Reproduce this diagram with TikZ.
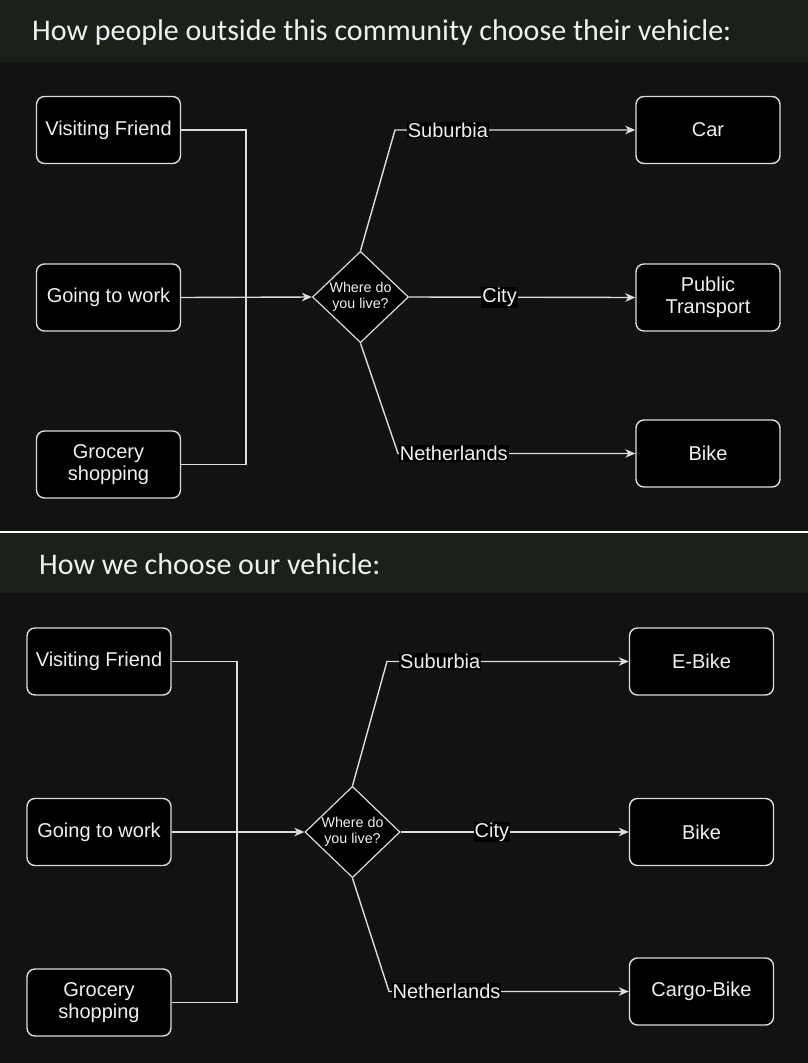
\documentclass[tikz,border=0pt]{standalone}
\usepackage{fontspec}
\setmainfont{Liberation Sans}
\newfontfamily\hdfont{Carlito}
\usetikzlibrary{shapes.geometric,arrows.meta}
\definecolor{bgdark}{HTML}{121212}
\definecolor{hdbg}{HTML}{1C201B}
\definecolor{fgtext}{HTML}{F0F0F0}
\definecolor{edgecol}{HTML}{DCDCDC}
\tikzset{
  box/.style={draw=edgecol, fill=black, rounded corners=8pt, line width=1.4pt,
    minimum width=144pt, minimum height=67pt, text=fgtext, align=center,
    font=\fontsize{20}{22}\selectfont, inner sep=2pt},
  dec/.style={diamond, draw=edgecol, fill=black, line width=1.2pt, inner sep=0pt,
    text=fgtext, align=center, font=\fontsize{14.3}{16}\selectfont},
  conn/.style={draw=edgecol, line width=1.4pt},
  arr/.style={conn, -{Stealth[length=10pt,width=8.5pt,inset=3pt]}},
  lbl/.style={fill=black, text=fgtext, inner sep=1pt, font=\fontsize{20}{22}\selectfont},
  hdtext/.style={anchor=base west, text=fgtext, inner sep=0pt, font=\hdfont\fontsize{30}{32}\selectfont}
}
\begin{document}
\begin{tikzpicture}[x=1pt,y=-1pt]
\useasboundingbox (0,0) rectangle (808,1063);
\fill[bgdark] (0,0) rectangle (808,1063);
\fill[hdbg] (0,0) rectangle (808,62);
\fill[hdbg] (0,533) rectangle (808,593);
\draw[white, line width=1.5pt] (0,532) -- (808,532);
\node[hdtext] (h1) at (32,40) {How people outside this community choose their vehicle:};
\node[hdtext] (h2) at (39,574) {How we choose our vehicle:};

% ---------- top diagram ----------
\node[box] (vf1) at (108.5,130) {Visiting Friend};
\node[box] (gw1) at (108.5,297.5) {Going to work};
\node[box] (gs1) at (108.5,464.5) {Grocery\\shopping};
\node[dec, minimum width=96pt, minimum height=88pt] (d1) at (360.5,297) {Where do\\you live?};
\node[box] (car1) at (708,130) {Car};
\node[box] (pt1) at (708,297.5) {Public\\Transport};
\node[box] (bk1) at (708,453.5) {Bike};
\coordinate (j1) at (246,297.5);
\coordinate (s1) at (395,130);
\coordinate (n1) at (398,453.5);
\draw[conn] (vf1.east) -| (j1);
\draw[conn] (gs1.east) -| (j1);
\draw[arr] (gw1.east) -- (d1.west);
\draw[arr] (d1.north) -- (s1) -- node[lbl,pos=0.22] (l1s) {Suburbia} (car1.west);
\draw[arr] (d1.east) -- node[lbl,pos=0.40] (l1c) {City} (pt1.west);
\draw[arr] (d1.south) -- (n1) -- node[lbl,pos=0.235] (l1n) {Netherlands} (bk1.west);

% ---------- bottom diagram ----------
\node[box] (vf2) at (99,661.5) {Visiting Friend};
\node[box] (gw2) at (99,832) {Going to work};
\node[box] (gs2) at (99,1002.5) {Grocery\\shopping};
\node[dec, minimum width=95pt, minimum height=90pt] (d2) at (352.5,832) {Where do\\you live?};
\node[box] (eb2) at (701.5,661.5) {E-Bike};
\node[box] (bk2) at (701.5,832) {Bike};
\node[box] (cb2) at (701.5,991.5) {Cargo-Bike};
\coordinate (j2) at (237,832);
\coordinate (s2) at (387,661.5);
\coordinate (n2) at (389,991.5);
\draw[conn] (vf2.east) -| (j2);
\draw[conn] (gs2.east) -| (j2);
\draw[arr] (gw2.east) -- (d2.west);
\draw[arr] (d2.north) -- (s2) -- node[lbl,pos=0.22] (l2s) {Suburbia} (eb2.west);
\draw[arr] (d2.east) -- node[lbl,pos=0.40] (l2c) {City} (bk2.west);
\draw[arr] (d2.south) -- (n2) -- node[lbl,pos=0.24] (l2n) {Netherlands} (cb2.west);
\end{tikzpicture}
\end{document}
